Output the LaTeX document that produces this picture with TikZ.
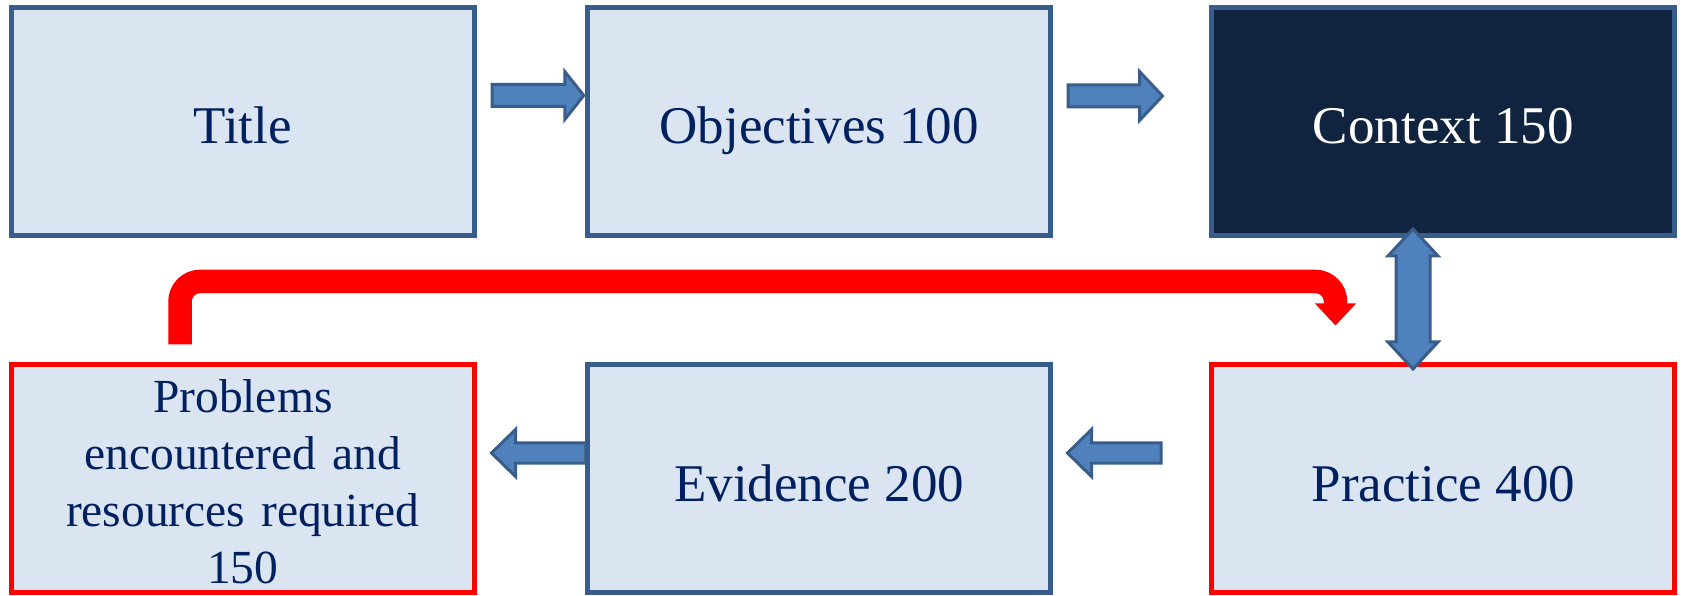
\documentclass[tikz,border=0pt]{standalone}
\usepackage{fontspec}
\setmainfont{Liberation Serif}
\usetikzlibrary{calc}
\pgfdeclarelayer{background}
\pgfsetlayers{background,main}
\definecolor{boxfill}{HTML}{DBE5F1}
\definecolor{boxline}{HTML}{385D8A}
\definecolor{darkbox}{HTML}{10243F}
\definecolor{txtblue}{HTML}{002060}
\definecolor{arrowfill}{HTML}{4F81BD}
\definecolor{arrowline}{HTML}{385D8A}
\definecolor{redline}{HTML}{FF0000}
% #1 tail coord, #2 tip coord, #3 shaft half width, #4 head half width, #5 head length, #6 direction (1 or -1)
\newcommand{\myharrow}[6]{%
  \draw[blockarrow] let \p1=(#1), \p2=(#2), \n1={\x2-(#6)*#5} in
   ({\x1},{\y1+#3}) -- ({\n1},{\y1+#3}) -- ({\n1},{\y1+#4}) -- ({\x2},{\y1})
   -- ({\n1},{\y1-#4}) -- ({\n1},{\y1-#3}) -- ({\x1},{\y1-#3}) -- cycle;}
\begin{document}
\begin{tikzpicture}[x=1pt,y=1pt,
  box/.style={rectangle, draw=boxline, fill=boxfill, line width=5pt,
    minimum width=463pt, minimum height=228pt, inner sep=0pt,
    text=txtblue, font=\fontsize{53}{57}\selectfont},
  onel/.style={text height=45pt, text depth=0pt},
  redbox/.style={draw=redline},
  darkstyle/.style={fill=darkbox, text=white},
  blockarrow/.style={fill=arrowfill, draw=arrowline, line width=3pt, line join=miter},
  bentarrow/.style={draw=redline, line width=23.5pt, rounded corners=20pt, line cap=butt}]
\useasboundingbox (0,0) rectangle (1682,595);

\node[box, onel] (title) at (242.75,473.5) {Title};
\node[box, onel] (obj) at (819.25,473.5) {Objectives 100};
\node[box, onel, darkstyle] (ctx) at (1443.25,473.5) {Context 150};
\node[box, redbox, align=center, text width=450pt, font=\fontsize{47.5}{57}\selectfont,
  text height=40pt, text depth=171pt] (prob) at (242.75,116.5)
  {Problems\\encountered and\\resources required\\150};
\node[box, onel] (evid) at (819.25,116.5) {Evidence 200};
\node[box, onel, redbox] (prac) at (1443.25,116.5) {Practice 400};

% arrow end points
\coordinate (a1s) at ($(title.east)+(15.25,26)$);
\coordinate (a1e) at ($(obj.west)+(-1.5,26)$);
\coordinate (a2s) at ($(obj.east)+(14.75,25.5)$);
\coordinate (a2e) at ($(ctx.west)+(-46.75,25.5)$);
\coordinate (l1s) at ($(evid.west)+(0.5,25.5)$);
\coordinate (l1e) at ($(prob.east)+(14.75,25.5)$);
\coordinate (l2s) at ($(prac.west)+(-48.25,25.5)$);
\coordinate (l2e) at ($(evid.east)+(14.25,25.5)$);
\coordinate (dtop) at ($(ctx.south)+(-30.25,9)$);
\coordinate (dbot) at ($(prac.north)+(-30.25,-7)$);
\coordinate (rs) at ($(prob.north)+(-62.75,17.5)$);
\coordinate (rtip) at ($(prac.north)+(-107.75,36.5)$);

\begin{pgfonlayer}{background}
\myharrow{a1s}{a1e}{11}{24}{19}{1}
\myharrow{a2s}{a2e}{11}{24.5}{23}{1}
\myharrow{l1s}{l1e}{10}{23.5}{24}{-1}
\myharrow{l2s}{l2e}{10}{23.5}{24}{-1}
\end{pgfonlayer}

% double vertical arrow Context <-> Practice
\draw[blockarrow] let \p1=(dtop), \p2=(dbot) in
  ({\x1},{\y1}) -- ({\x1+25},{\y1-27}) -- ({\x1+17},{\y1-27}) -- ({\x1+17},{\y2+27}) -- ({\x1+25},{\y2+27})
  -- ({\x1},{\y2}) -- ({\x1-25},{\y2+27}) -- ({\x1-17},{\y2+27}) -- ({\x1-17},{\y1-27}) -- ({\x1-25},{\y1-27}) -- cycle;

% red bent arrow from Problems to Practice
\draw[bentarrow] let \p1=(rs), \p2=(rtip) in
  (rs) -- ({\x1},313.5) -- ({\x2},313.5) -- ({\x2},{\y2+21});
\fill[redline] let \p2=(rtip) in
  ({\x2-20.5},{\y2+22}) -- ({\x2+20.5},{\y2+22}) -- (rtip) -- cycle;
\end{tikzpicture}
\end{document}
